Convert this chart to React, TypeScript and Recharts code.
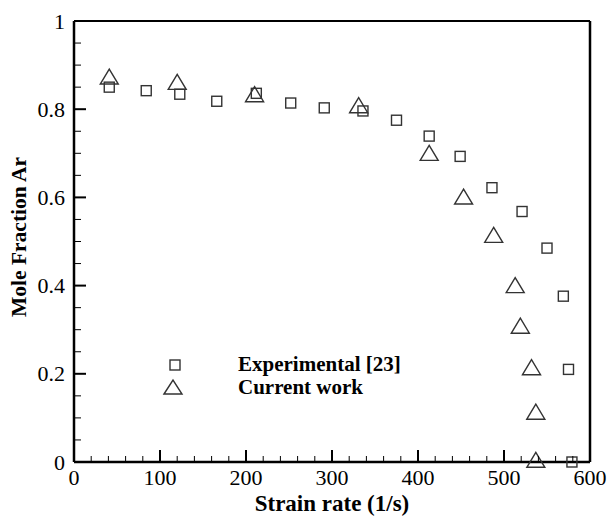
import React from "react";
import { ScatterChart, Scatter, XAxis, YAxis, ReferenceLine, Legend } from "recharts";

// Experimental [23]
const expStrain = [41, 84, 123, 166, 212, 252, 291, 336, 375, 413, 449, 486, 521, 550, 569, 575, 579];
const expAr = [0.85, 0.842, 0.834, 0.818, 0.836, 0.814, 0.803, 0.796, 0.775, 0.739, 0.693, 0.622, 0.568, 0.485, 0.376, 0.21, 0.0];

// Current work
const curStrain = [41, 120, 210, 331, 413, 453, 488, 513, 519, 532, 537, 537];
const curAr = [0.874, 0.862, 0.834, 0.809, 0.701, 0.602, 0.515, 0.401, 0.309, 0.215, 0.114, 0.005];

const xTicks = [0, 20, 40, 60, 80, 100, 120, 140, 160, 180, 200, 220, 240, 260, 280, 300, 320, 340, 360, 380, 400, 420, 440, 460, 480, 500, 520, 540, 560, 580, 600];
const xMajor = [0, 100, 200, 300, 400, 500, 600];
const yTicks = [0, 0.05, 0.1, 0.15, 0.2, 0.25, 0.3, 0.35, 0.4, 0.45, 0.5, 0.55, 0.6, 0.65, 0.7, 0.75, 0.8, 0.85, 0.9, 0.95, 1];
const yMajor = [0, 0.2, 0.4, 0.6, 0.8, 1];

const expData = expStrain.map((x, i) => ({ x, y: expAr[i] }));
const curData = curStrain.map((x, i) => ({ x, y: curAr[i] }));

const FONT = "'Liberation Serif', 'Times New Roman', serif";
const MARK = "#333";

const Square = ({ cx, cy }: any) => (
  <rect x={cx - 5} y={cy - 5} width={10} height={10} fill="none" stroke={MARK} strokeWidth={1.4} />
);

const Triangle = ({ cx, cy }: any) => (
  <polygon
    points={`${cx - 9},${cy + 7.5} ${cx},${cy - 7.5} ${cx + 9},${cy + 7.5}`}
    fill="none"
    stroke={MARK}
    strokeWidth={1.4}
  />
);

const XTick = ({ x, y, payload }: any) => {
  const v = payload.value;
  const major = xMajor.includes(v);
  return (
    <g>
      {v !== 0 && v !== 600 && (
        <line x1={x} x2={x} y1={y} y2={y - (major ? 12 : 6)} stroke="#000" strokeWidth={major ? 2 : 1} />
      )}
      {major && (
        <text x={x} y={y + 23} textAnchor="middle" fontFamily={FONT} fontSize={22} fill="#000">
          {v}
        </text>
      )}
    </g>
  );
};

const YTick = ({ x, y, payload }: any) => {
  const v = payload.value;
  const major = yMajor.includes(v);
  return (
    <g>
      {v !== 0 && v !== 1 && (
        <line x1={x} x2={x + (major ? 12 : 7)} y1={y} y2={y} stroke="#000" strokeWidth={major ? 2 : 1} />
      )}
      {major && (
        <text x={x - 9} y={y + 7.5} textAnchor="end" fontFamily={FONT} fontSize={22} fill="#000">
          {v}
        </text>
      )}
    </g>
  );
};

const LegendBox = () => (
  <svg width={280} height={52} style={{ display: "block" }}>
    <rect x={10} y={8} width={10} height={10} fill="none" stroke={MARK} strokeWidth={1.4} />
    <polygon points="4,42 13,28 22,42" fill="none" stroke={MARK} strokeWidth={1.4} />
    <text x={78} y={19} fontFamily={FONT} fontWeight="bold" fontSize={21} fill="#000">
      Experimental [23]
    </text>
    <text x={78} y={42} fontFamily={FONT} fontWeight="bold" fontSize={21} fill="#000">
      Current work
    </text>
  </svg>
);

export default function App() {
  return (
    <div style={{ position: "absolute", left: 0, top: 0, background: "#fff" }}>
      <ScatterChart width={607} height={516} margin={{ top: 21, right: 17, left: 0, bottom: 0 }}>
        <XAxis
          type="number"
          dataKey="x"
          domain={[0, 600]}
          ticks={xTicks}
          interval={0}
          tickSize={0}
          tickMargin={0}
          tickLine={false}
          tick={<XTick />}
          axisLine={{ stroke: "#000", strokeWidth: 2.5 }}
          height={54}
          label={{
            content: () => (
              <text x={332} y={511} textAnchor="middle" fontFamily={FONT} fontWeight="bold" fontSize={23} fill="#000">
                Strain rate (1/s)
              </text>
            ),
          }}
        />
        <YAxis
          type="number"
          dataKey="y"
          domain={[0, 1]}
          ticks={yTicks}
          interval={0}
          tickSize={0}
          tickMargin={0}
          tickLine={false}
          tick={<YTick />}
          axisLine={{ stroke: "#000", strokeWidth: 2.5 }}
          width={74}
          label={{
            content: () => (
              <text
                transform="translate(26,237) rotate(-90)"
                textAnchor="middle"
                fontFamily={FONT}
                fontWeight="bold"
                fontSize={21.5}
                fill="#000"
              >
                Mole Fraction Ar
              </text>
            ),
          }}
        />
        <ReferenceLine y={1} stroke="#000" strokeWidth={2} />
        <ReferenceLine x={600} stroke="#000" strokeWidth={2.5} />
        <Legend
          layout="vertical"
          align="center"
          verticalAlign="middle"
          content={() => <LegendBox />}
          wrapperStyle={{ left: 160, top: 352, width: 280 }}
        />
        <Scatter name="Experimental [23]" data={expData} shape={<Square />} isAnimationActive={false} />
        <Scatter name="Current work" data={curData} shape={<Triangle />} isAnimationActive={false} />
      </ScatterChart>
    </div>
  );
}
